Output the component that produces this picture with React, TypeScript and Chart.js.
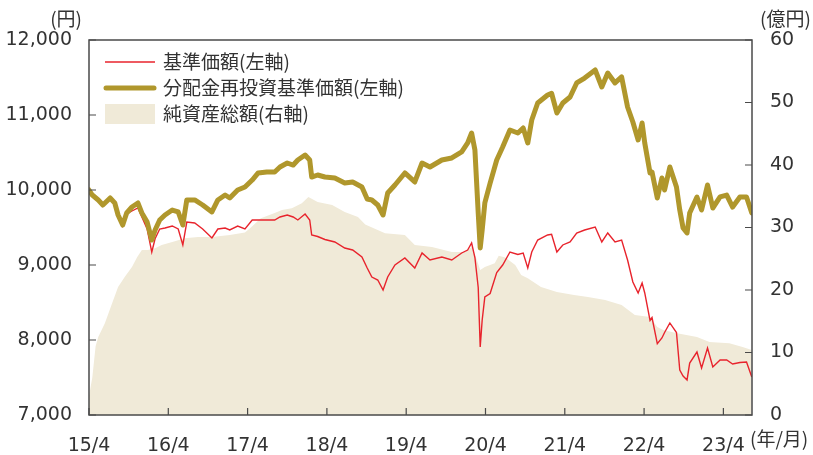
import React, { useEffect, useRef } from 'react';
import { Chart, registerables } from 'chart.js';

Chart.register(...registerables);

const JP_FONT = '"Noto Sans CJK JP", "Noto Sans", sans-serif';
const NUM_FONT = '"DejaVu Sans", sans-serif';
const TEXT_COLOR = '#333333';
const FRAME_COLOR = '#4a4a4a';
const RED = '#E8232C';
const GOLD = '#B0972C';
const AREA = 'rgb(240,234,216)';

// x positions in months since 2015/4
const xTickMonths = [0, 12, 24, 36, 48, 60, 72, 84, 96];
const xTickLabels = ['15/4', '16/4', '17/4', '18/4', '19/4', '20/4', '21/4', '22/4', '23/4'];
const leftTicks = [7000, 8000, 9000, 10000, 11000, 12000];
const rightTicks = [0, 10, 20, 30, 40, 50, 60];

const legendLabels = ['基準価額(左軸)', '分配金再投資基準価額(左軸)', '純資産総額(右軸)'];

const priceMonths = [
  0, 0.5, 1.4, 2.1, 3.2, 3.9, 4.4, 5.1, 5.7, 6.5, 7.4, 8.0, 8.8, 9.5, 10.0, 10.7, 11.5, 12.6, 13.5, 14.2,
  14.8, 16.0, 17.2, 18.6, 19.5, 20.6, 21.3, 22.5, 23.6, 24.7, 25.6, 26.9, 28.1, 28.9, 30.0, 30.9, 31.6, 32.7,
  33.4, 33.7, 34.6, 35.7, 37.2, 38.7, 39.9, 41.3, 42.1, 42.8, 43.7, 44.5, 45.2, 46.3, 47.8, 49.3, 50.4, 51.6,
  53.4, 54.9, 56.4, 57.3, 57.9, 58.4, 58.9, 59.2, 59.5, 59.9, 60.7, 61.7, 62.6, 63.7, 64.9, 65.7, 66.4, 67.0,
  67.9, 69.4, 70.0, 70.8, 71.7, 72.8, 73.8, 75.0, 76.6, 77.6, 78.5, 79.6, 80.6, 81.5, 82.3, 83.1, 83.7, 84.1,
  84.9, 85.2, 86.0, 86.7, 87.1, 87.9, 88.9, 89.4, 89.9, 90.5, 90.9, 92.0, 92.7, 93.6, 94.4, 95.5, 96.5, 97.4,
  98.5, 99.5, 100.3,
];

const reinvestedNav = [
  10000, 9933, 9867, 9800, 9893, 9827, 9667, 9533, 9693, 9773, 9827, 9693, 9573, 9333, 9467, 9600, 9667, 9733, 9707, 9533,
  9867, 9867, 9800, 9707, 9867, 9933, 9893, 10000, 10040, 10133, 10227, 10240, 10240, 10307, 10360, 10333, 10400, 10467,
  10400, 10173, 10200, 10173, 10160, 10093, 10107, 10040, 9880, 9867, 9800, 9667, 9960, 10067, 10227, 10107, 10360, 10307,
  10400, 10427, 10507, 10627, 10760, 10533, 9693, 9227, 9467, 9827, 10093, 10400, 10573, 10800, 10760, 10827, 10627, 10933,
  11160, 11267, 11290, 11027, 11160, 11240, 11427, 11493, 11600, 11373, 11560, 11427, 11507, 11107, 10907, 10667, 10893, 10627,
  10227, 10240, 9893, 10160, 10000, 10307, 10040, 9733, 9493, 9427, 9693, 9907, 9733, 10067, 9760, 9907, 9933, 9773,
  9907, 9907, 9693,
];

const nav = [
  10000, 9933, 9867, 9800, 9893, 9827, 9667, 9520, 9680, 9720, 9760, 9640, 9480, 9173, 9350, 9480, 9493, 9520, 9480, 9267,
  9573, 9560, 9480, 9360, 9480, 9493, 9467, 9520, 9480, 9600, 9600, 9600, 9600, 9640, 9667, 9640, 9600, 9680,
  9600, 9400, 9380, 9340, 9307, 9227, 9200, 9107, 8960, 8840, 8800, 8667, 8840, 9000, 9093, 8960, 9160, 9067,
  9107, 9067, 9160, 9200, 9293, 9100, 8700, 7907, 8267, 8573, 8620, 8900, 9000, 9173, 9140, 9160, 8960, 9173,
  9333, 9400, 9410, 9173, 9267, 9307, 9427, 9467, 9507, 9307, 9427, 9307, 9333, 9067, 8773, 8627, 8760, 8627,
  8260, 8300, 7950, 8027, 8100, 8227, 8100, 7600, 7520, 7467, 7693, 7840, 7627, 7893, 7640, 7733, 7733, 7680,
  7700, 7707, 7507,
];

const aumMonths = [
  0, 0.5, 1.0, 1.4, 2.4, 3.5, 4.4, 5.4, 6.5, 7.3, 8.0, 8.9, 10.0, 11.0, 12.6, 14.5, 16.5, 18.6, 21.3, 23.6,
  24.5, 26.0, 28.0, 29.2, 30.7, 32.2, 33.2, 34.6, 36.8, 38.7, 40.7, 41.8, 44.8, 47.8, 49.3, 51.9, 54.9, 56.9,
  57.9, 58.7, 59.2, 59.9, 61.4, 62.0, 63.0, 64.5, 65.4, 66.4, 68.4, 70.8, 73.4, 75.5, 78.1, 80.6, 82.6, 84.9,
  86.0, 86.9, 89.0, 92.0, 93.9, 96.9, 98.9, 100.3,
];

const aumValues = [
  3, 6, 11, 12.5, 14.7, 17.9, 20.5, 22.1, 23.7, 25.3, 26.4, 26.4, 26.7, 27.2, 27.7, 28.3, 28.5, 28.5, 28.8, 29.2,
  30, 31.5, 32.3, 32.8, 33.1, 33.9, 34.9, 34.1, 33.6, 32.5, 31.7, 30.5, 29.1, 28.8, 27.2, 26.9, 26.1, 26.1,
  26.9, 24.8, 23.2, 23.7, 24.3, 25.5, 25.2, 24, 22.4, 21.9, 20.5, 19.7, 19.2, 18.9, 18.4, 17.6, 16, 15.7,
  14.1, 13.6, 13.1, 12.5, 11.7, 11.5, 10.9, 10.4,
];

const X_MAX = 100.33;

export default function App() {
  const canvasRef = useRef<HTMLCanvasElement>(null);

  useEffect(() => {
    if (!canvasRef.current) return;

    const decorPlugin = {
      id: 'decor',
      afterDatasetsDraw(chart: any) {
        const { ctx, chartArea: a, scales } = chart;
        ctx.save();
        // frame
        ctx.strokeStyle = FRAME_COLOR;
        ctx.lineWidth = 1.5;
        ctx.strokeRect(a.left, a.top, a.right - a.left, a.bottom - a.top);
        // inward tick marks
        const tl = 7;
        ctx.beginPath();
        leftTicks.forEach((v) => {
          const y = scales.y.getPixelForValue(v);
          ctx.moveTo(a.left, y);
          ctx.lineTo(a.left + tl, y);
        });
        rightTicks.forEach((v) => {
          const y = scales.y2.getPixelForValue(v);
          ctx.moveTo(a.right, y);
          ctx.lineTo(a.right - tl, y);
        });
        xTickMonths.forEach((v) => {
          const x = scales.x.getPixelForValue(v);
          ctx.moveTo(x, a.bottom);
          ctx.lineTo(x, a.bottom - tl);
        });
        ctx.lineWidth = 1.2;
        ctx.stroke();

        // legend
        const lx0 = a.left + 16;
        const lx1 = a.left + 66;
        const tx = a.left + 74;
        const rows = [a.top + 22, a.top + 48, a.top + 74];
        ctx.lineCap = 'butt';
        ctx.strokeStyle = RED;
        ctx.lineWidth = 1.4;
        ctx.beginPath();
        ctx.moveTo(lx0, rows[0]);
        ctx.lineTo(lx1, rows[0]);
        ctx.stroke();
        ctx.strokeStyle = GOLD;
        ctx.lineWidth = 5;
        ctx.lineCap = 'round';
        ctx.beginPath();
        ctx.moveTo(lx0 + 1, rows[1]);
        ctx.lineTo(lx1 - 1, rows[1]);
        ctx.stroke();
        ctx.fillStyle = AREA;
        ctx.fillRect(lx0, rows[2] - 10, lx1 - lx0, 20);

        ctx.fillStyle = TEXT_COLOR;
        ctx.font = `19px ${JP_FONT}`;
        ctx.textAlign = 'left';
        ctx.textBaseline = 'middle';
        legendLabels.forEach((t, i) => ctx.fillText(t, tx, rows[i]));

        // unit labels
        ctx.textAlign = 'right';
        ctx.fillText('(円)', a.left - 7, 19);
        ctx.textAlign = 'left';
        ctx.fillText('(億円)', a.right + 8, 19);
        ctx.fillText('(年/月)', a.right - 2, 439);
        ctx.restore();
      },
    };

    const chart = new Chart(canvasRef.current, {
      type: 'line',
      data: {
        datasets: [
          {
            label: legendLabels[1],
            data: priceMonths.map((m, i) => ({ x: m, y: reinvestedNav[i] })),
            borderColor: GOLD,
            borderWidth: 5,
            pointRadius: 0,
            tension: 0,
            yAxisID: 'y',
            order: 0,
            borderJoinStyle: 'round',
            borderCapStyle: 'round',
          },
          {
            label: legendLabels[0],
            data: priceMonths.map((m, i) => ({ x: m, y: nav[i] })),
            borderColor: RED,
            borderWidth: 1.4,
            pointRadius: 0,
            tension: 0,
            yAxisID: 'y',
            order: 1,
          },
          {
            label: legendLabels[2],
            data: aumMonths.map((m, i) => ({ x: m, y: aumValues[i] })),
            borderColor: AREA,
            borderWidth: 0,
            backgroundColor: AREA,
            fill: 'start',
            pointRadius: 0,
            tension: 0,
            yAxisID: 'y2',
            order: 2,
          },
        ],
      },
      options: {
        animation: false,
        responsive: true,
        maintainAspectRatio: false,
        layout: { padding: { top: 40, left: 0, right: 0, bottom: 0 } },
        plugins: {
          legend: { display: false },
          tooltip: { enabled: false },
        },
        scales: {
          x: {
            type: 'linear',
            min: 0,
            max: X_MAX,
            grid: { display: false },
            border: { display: false },
            afterBuildTicks: (s: any) => {
              s.ticks = xTickMonths.map((v) => ({ value: v }));
            },
            afterFit: (s: any) => {
              s.height = 40;
            },
            ticks: {
              autoSkip: false,
              maxRotation: 0,
              padding: 12,
              color: TEXT_COLOR,
              font: { family: NUM_FONT, size: 19 },
              callback: (v: any) => {
                const i = xTickMonths.indexOf(Number(v));
                return i >= 0 ? xTickLabels[i] : '';
              },
            },
          },
          y: {
            position: 'left',
            min: 7000,
            max: 12000,
            grid: { display: false },
            border: { display: false },
            afterBuildTicks: (s: any) => {
              s.ticks = leftTicks.map((v) => ({ value: v }));
            },
            afterFit: (s: any) => {
              s.width = 89;
            },
            ticks: {
              padding: 9,
              color: TEXT_COLOR,
              font: { family: NUM_FONT, size: 19 },
              callback: (v: any) => Number(v).toLocaleString('en-US'),
            },
          },
          y2: {
            position: 'right',
            min: 0,
            max: 60,
            grid: { display: false },
            border: { display: false },
            afterBuildTicks: (s: any) => {
              s.ticks = rightTicks.map((v) => ({ value: v }));
            },
            afterFit: (s: any) => {
              s.width = 61;
            },
            ticks: {
              padding: 10,
              color: TEXT_COLOR,
              font: { family: NUM_FONT, size: 19 },
            },
          },
        },
      },
      plugins: [decorPlugin],
    });

    return () => chart.destroy();
  }, []);

  return (
    <div style={{ position: 'absolute', left: 0, top: 0, width: 813, height: 455 }}>
      <canvas ref={canvasRef} />
    </div>
  );
}
